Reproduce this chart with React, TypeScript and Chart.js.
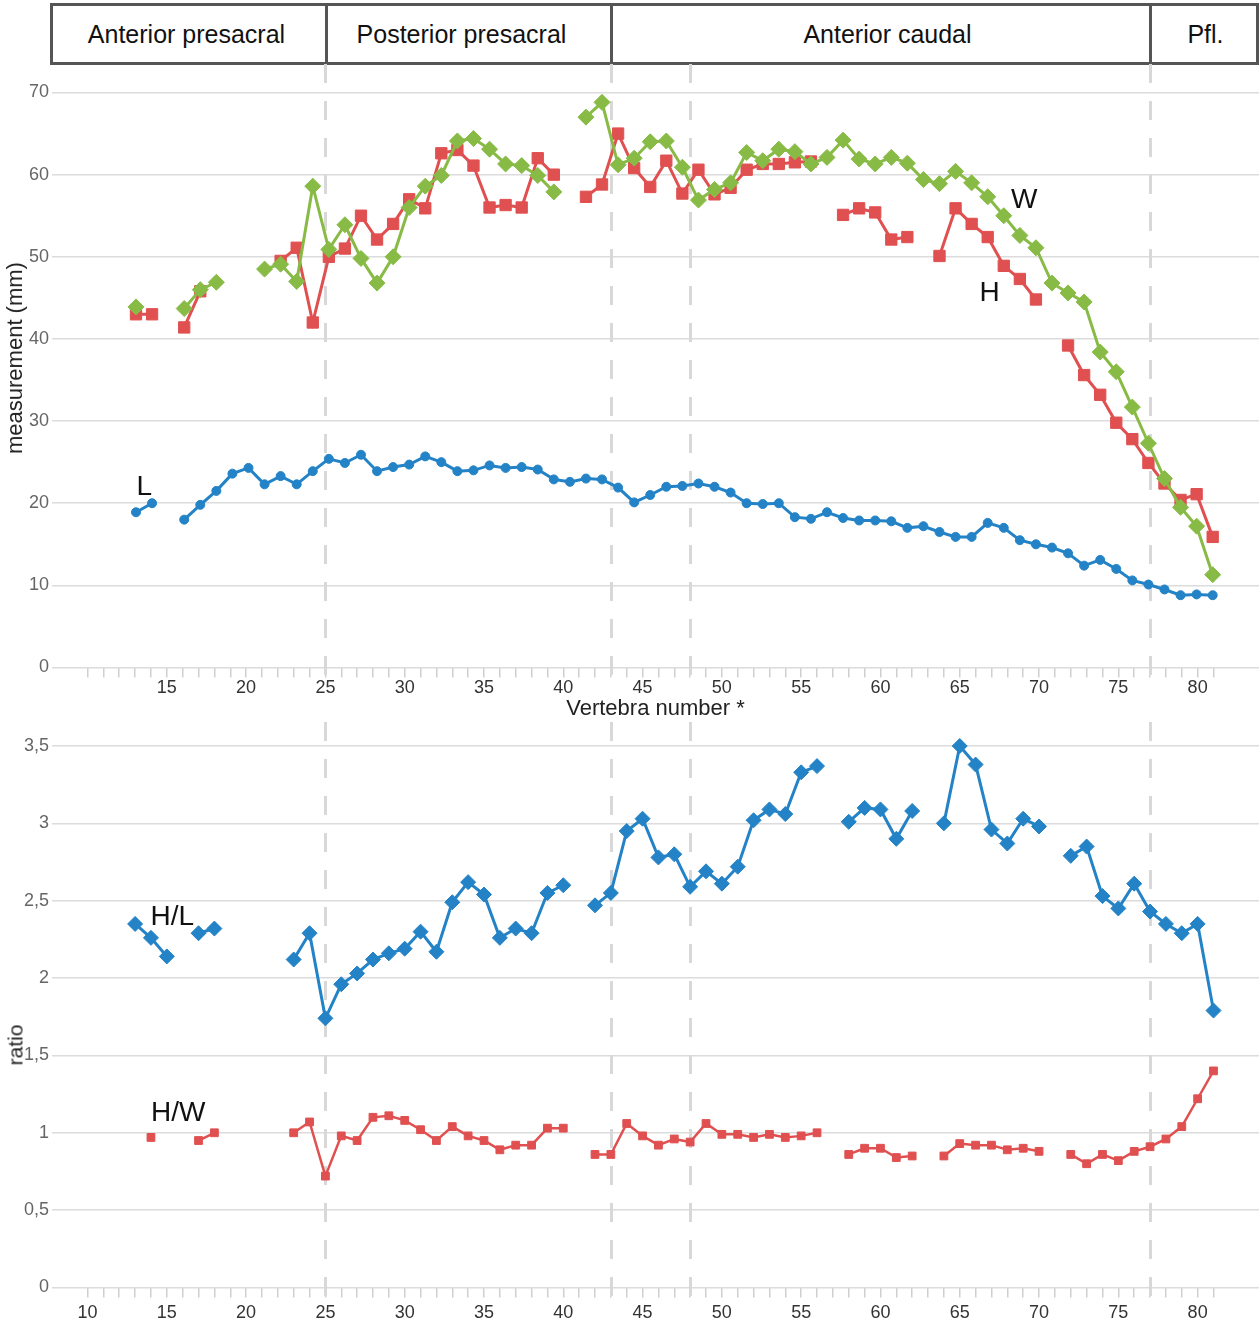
import React, { useEffect, useRef } from 'react';
import { Chart, registerables } from 'chart.js';

Chart.register(...registerables);

const FONT = "'Liberation Sans', Arial, Helvetica, sans-serif";
const BLUE = '#2383c6';
const RED = '#e05050';
const GREEN = '#88bb46';

// ---------- region headers ----------
const regionNames = ['Anterior presacral', 'Posterior presacral', 'Anterior caudal', 'Pfl.'];
const headerEdges = [51, 326, 611, 1150, 1257]; // layout (px)
const headerTextShift = [-2, -7, 7, 2]; // layout (px)
const regionBoundaries = [25, 43, 48, 77]; // dashed vertical lines (vertebra number)

// ---------- axis ticks ----------
const xTickValues = [
  10, 11, 12, 13, 14, 15, 16, 17, 18, 19, 20, 21, 22, 23, 24, 25, 26, 27, 28, 29, 30,
  31, 32, 33, 34, 35, 36, 37, 38, 39, 40, 41, 42, 43, 44, 45, 46, 47, 48, 49, 50,
  51, 52, 53, 54, 55, 56, 57, 58, 59, 60, 61, 62, 63, 64, 65, 66, 67, 68, 69, 70,
  71, 72, 73, 74, 75, 76, 77, 78, 79, 80, 81,
];
const topXLabels = [15, 20, 25, 30, 35, 40, 45, 50, 55, 60, 65, 70, 75, 80];
const bottomXLabels = [10, 15, 20, 25, 30, 35, 40, 45, 50, 55, 60, 65, 70, 75, 80];
const X_MIN = 7.76;
const X_MAX = 83.87;
// the upper panel's points are spaced slightly wider than its tick labels
const TOP_POINT_MIN = 8.773;
const TOP_POINT_MAX = 83.882;

// ---------- upper panel: measurements (mm) ----------
const topVertebrae = [
  14, 15, 16, 17, 18, 19, 20, 21, 22, 23, 24, 25, 26, 27, 28, 29, 30, 31, 32, 33,
  34, 35, 36, 37, 38, 39, 40, 41, 42, 43, 44, 45, 46, 47, 48, 49, 50, 51, 52, 53,
  54, 55, 56, 57, 58, 59, 60, 61, 62, 63, 64, 65, 66, 67, 68, 69, 70, 71, 72, 73,
  74, 75, 76, 77, 78, 79, 80, 81,
];
const lengthL = [
  18.9, 20.0, null, 18.0, 19.8, 21.5, 23.6, 24.3, 22.3, 23.3, 22.3, 23.9, 25.4, 24.9, 25.9, 23.9, 24.4, 24.7, 25.7, 25.0,
  23.9, 24.0, 24.6, 24.3, 24.4, 24.1, 22.9, 22.6, 23.0, 22.9, 21.9, 20.1, 21.0, 22.0, 22.1, 22.4, 22.0, 21.3, 20.0, 19.9,
  20.0, 18.3, 18.1, 18.9, 18.2, 17.9, 17.9, 17.8, 17.0, 17.2, 16.5, 15.9, 15.9, 17.6, 17.0, 15.5, 15.0, 14.6, 13.9, 12.4,
  13.1, 12.0, 10.6, 10.1, 9.5, 8.8, 8.9, 8.8,
];
const heightH = [
  43.0, 43.0, null, 41.4, 45.8, null, null, null, null, 49.5, 51.1, 42.0, 50.0, 51.0, 55.0, 52.1, 54.0, 57.0, 55.9, 62.6,
  63.0, 61.1, 56.0, 56.3, 56.0, 62.0, 60.0, null, 57.3, 58.8, 65.0, 60.8, 58.5, 61.7, 57.7, 60.6, 57.6, 58.4, 60.6, 61.3,
  61.3, 61.5, 61.6, null, 55.1, 55.9, 55.4, 52.1, 52.4, null, 50.1, 55.9, 54.0, 52.4, 48.9, 47.3, 44.8, null, 39.2, 35.6,
  33.2, 29.8, 27.8, 24.9, 22.4, 20.4, 21.1, 15.9,
];
const widthW = [
  43.9, null, null, 43.7, 46.0, 46.9, null, null, 48.5, 49.1, 47.0, 58.6, 50.9, 53.9, 49.8, 46.8, 50.0, 56.0, 58.6, 59.9,
  64.1, 64.4, 63.1, 61.3, 61.1, 59.9, 57.9, null, 67.0, 68.8, 61.2, 62.0, 64.0, 64.1, 60.9, 56.9, 58.2, 59.0, 62.7, 61.7,
  63.1, 62.8, 61.3, 62.1, 64.2, 61.9, 61.3, 62.1, 61.4, 59.4, 58.9, 60.4, 59.0, 57.3, 55.0, 52.6, 51.1, 46.8, 45.6, 44.5,
  38.4, 36.0, 31.7, 27.3, 23.0, 19.5, 17.2, 11.3,
];

// ---------- lower panel: ratios ----------
const ratioVertebrae = [
  13, 14, 15, 16, 17, 18, 19, 20, 21, 22, 23, 24, 25, 26, 27, 28, 29, 30, 31, 32,
  33, 34, 35, 36, 37, 38, 39, 40, 41, 42, 43, 44, 45, 46, 47, 48, 49, 50, 51, 52,
  53, 54, 55, 56, 57, 58, 59, 60, 61, 62, 63, 64, 65, 66, 67, 68, 69, 70, 71, 72,
  73, 74, 75, 76, 77, 78, 79, 80, 81,
];
const ratioHL = [
  2.35, 2.26, 2.14, null, 2.29, 2.32, null, null, null, null, 2.12, 2.29, 1.74, 1.96, 2.03, 2.12, 2.16, 2.19, 2.30, 2.17,
  2.49, 2.62, 2.54, 2.26, 2.32, 2.29, 2.55, 2.60, null, 2.47, 2.55, 2.95, 3.03, 2.78, 2.80, 2.59, 2.69, 2.61, 2.72, 3.02,
  3.09, 3.06, 3.33, 3.37, null, 3.01, 3.10, 3.09, 2.90, 3.08, null, 3.00, 3.50, 3.38, 2.96, 2.87, 3.03, 2.98, null, 2.79,
  2.85, 2.53, 2.45, 2.61, 2.43, 2.35, 2.29, 2.35, 1.79,
];
const ratioHW = [
  null, 0.97, null, null, 0.95, 1.00, null, null, null, null, 1.00, 1.07, 0.72, 0.98, 0.95, 1.10, 1.11, 1.08, 1.02, 0.95,
  1.04, 0.98, 0.95, 0.89, 0.92, 0.92, 1.03, 1.03, null, 0.86, 0.86, 1.06, 0.98, 0.92, 0.96, 0.94, 1.06, 0.99, 0.99, 0.97,
  0.99, 0.97, 0.98, 1.00, null, 0.86, 0.90, 0.90, 0.84, 0.85, null, 0.85, 0.93, 0.92, 0.92, 0.89, 0.90, 0.88, null, 0.86,
  0.80, 0.86, 0.82, 0.88, 0.91, 0.96, 1.04, 1.22, 1.40,
];

const toPoints = (xs: number[], ys: (number | null)[]) => xs.map((x, i) => ({ x, y: ys[i] }));

const makeDividerPlugin = (extra: number) => ({
  id: 'regionDividers',
  beforeDatasetsDraw(chart: any) {
    const { ctx, chartArea, scales } = chart;
    const sx = scales.x;
    ctx.save();
    ctx.strokeStyle = '#d8d8d8';
    ctx.lineWidth = 3;
    ctx.setLineDash([19, 18]);
    for (const b of regionBoundaries) {
      const px = Math.round(sx.getPixelForValue(b)) + 0.5;
      ctx.beginPath();
      ctx.moveTo(px, 0);
      ctx.lineTo(px, chartArea.bottom + extra);
      ctx.stroke();
    }
    ctx.restore();
  },
});

const xAxis = (labels: number[], padding: number, height: number, title?: any) => ({
  type: 'linear',
  position: 'bottom',
  min: X_MIN,
  max: X_MAX,
  afterBuildTicks: (axis: any) => {
    axis.ticks = xTickValues.map((v) => ({ value: v }));
  },
  afterFit: (axis: any) => {
    axis.height = height;
  },
  ticks: {
    autoSkip: false,
    maxRotation: 0,
    minRotation: 0,
    padding,
    color: '#333',
    font: { size: 18, family: FONT },
    callback: (v: number) => (labels.includes(v) ? String(v) : ''),
  },
  grid: { drawOnChartArea: false, drawTicks: true, tickLength: 10, color: '#cfcfcf', lineWidth: 1.5 },
  border: { display: false },
  title: title || { display: false },
});

export default function App() {
  const topRef = useRef<HTMLCanvasElement>(null);
  const botRef = useRef<HTMLCanvasElement>(null);

  useEffect(() => {
    Chart.defaults.font.family = FONT;

    const top = new Chart(topRef.current as HTMLCanvasElement, {
      type: 'line',
      data: {
        datasets: [
          {
            label: 'W',
            data: toPoints(topVertebrae, widthW),
            xAxisID: 'xd',
            borderColor: GREEN,
            backgroundColor: GREEN,
            pointBorderColor: GREEN,
            pointBackgroundColor: GREEN,
            pointStyle: 'rectRot',
            pointRadius: 8,
            pointBorderWidth: 1,
            borderWidth: 3,
            tension: 0,
            clip: false,
          },
          {
            label: 'H',
            data: toPoints(topVertebrae, heightH),
            xAxisID: 'xd',
            borderColor: RED,
            backgroundColor: RED,
            pointBorderColor: RED,
            pointBackgroundColor: RED,
            pointStyle: 'rect',
            pointRadius: 8,
            pointBorderWidth: 1,
            borderWidth: 3,
            tension: 0,
            clip: false,
          },
          {
            label: 'L',
            data: toPoints(topVertebrae, lengthL),
            xAxisID: 'xd',
            borderColor: BLUE,
            backgroundColor: BLUE,
            pointBorderColor: BLUE,
            pointBackgroundColor: BLUE,
            pointStyle: 'circle',
            pointRadius: 4.5,
            pointBorderWidth: 1,
            borderWidth: 3,
            tension: 0,
            clip: false,
          },
        ],
      },
      options: {
        animation: false,
        responsive: false,
        events: [],
        layout: { autoPadding: false, padding: { top: 28.5, left: 0, right: 0, bottom: 0 } },
        plugins: { legend: { display: false }, tooltip: { enabled: false } },
        scales: {
          x: xAxis(topXLabels, 0, 54.5, {
            display: true,
            text: 'Vertebra number *',
            color: '#222',
            font: { size: 22, family: FONT },
            padding: { top: 0, bottom: 0 },
          }),
          xd: { type: 'linear', display: false, min: TOP_POINT_MIN, max: TOP_POINT_MAX },
          y: {
            min: 0,
            max: 70,
            afterFit: (axis: any) => {
              axis.width = 52;
            },
            ticks: { stepSize: 10, padding: 3, color: '#666', font: { size: 18, family: FONT } },
            grid: { color: '#dcdcdc', lineWidth: 1.5, drawTicks: false },
            border: { display: false },
          },
        },
      } as any,
      plugins: [makeDividerPlugin(10)],
    } as any);

    const bot = new Chart(botRef.current as HTMLCanvasElement, {
      type: 'line',
      data: {
        datasets: [
          {
            label: 'H/L',
            data: toPoints(ratioVertebrae, ratioHL),
            borderColor: BLUE,
            backgroundColor: BLUE,
            pointBorderColor: BLUE,
            pointBackgroundColor: BLUE,
            pointStyle: 'rectRot',
            pointRadius: 7.5,
            pointBorderWidth: 1,
            borderWidth: 3,
            tension: 0,
            clip: false,
          },
          {
            label: 'H/W',
            data: toPoints(ratioVertebrae, ratioHW),
            borderColor: RED,
            backgroundColor: RED,
            pointBorderColor: RED,
            pointBackgroundColor: RED,
            pointStyle: 'rect',
            pointRadius: 5.5,
            pointBorderWidth: 1,
            borderWidth: 2.5,
            tension: 0,
            clip: false,
          },
        ],
      },
      options: {
        animation: false,
        responsive: false,
        events: [],
        layout: { autoPadding: false, padding: { top: 24, left: 0, right: 0, bottom: 0 } },
        plugins: { legend: { display: false }, tooltip: { enabled: false } },
        scales: {
          x: xAxis(bottomXLabels, 5, 37.5),
          y: {
            min: 0,
            max: 3.5,
            afterFit: (axis: any) => {
              axis.width = 52;
            },
            ticks: {
              stepSize: 0.5,
              padding: 3,
              color: '#666',
              font: { size: 18, family: FONT },
              callback: (v: number) => String(v).replace('.', ','),
            },
            grid: { color: '#dcdcdc', lineWidth: 1.5, drawTicks: false },
            border: { display: false },
          },
        },
      } as any,
      plugins: [makeDividerPlugin(12)],
    } as any);

    return () => {
      top.destroy();
      bot.destroy();
    };
  }, []);

  const seriesLabel = (text: string, left: number, top: number) => (
    <div
      key={text}
      style={{
        position: 'absolute',
        left,
        top,
        fontSize: 28,
        lineHeight: 1,
        color: '#111',
        fontFamily: FONT,
        whiteSpace: 'nowrap',
      }}
    >
      {text}
    </div>
  );

  const axisTitle = (text: string, cx: number, cy: number, size: number) => (
    <div
      key={text}
      style={{
        position: 'absolute',
        left: cx,
        top: cy,
        transform: 'translate(-50%, -50%) rotate(-90deg)',
        fontSize: size,
        lineHeight: 1,
        color: '#222',
        fontFamily: FONT,
        whiteSpace: 'nowrap',
      }}
    >
      {text}
    </div>
  );

  return (
    <div
      style={{
        position: 'absolute',
        left: 0,
        top: 0,
        width: 1259,
        height: 1325,
        background: '#fff',
        overflow: 'hidden',
        fontFamily: FONT,
      }}
    >
      {regionNames.map((name, i) => (
        <div
          key={name}
          style={{
            position: 'absolute',
            left: headerEdges[i] - 1.5,
            top: 3,
            width: headerEdges[i + 1] - headerEdges[i] + 3,
            height: 62,
            border: '3px solid #555',
            boxSizing: 'border-box',
            display: 'flex',
            alignItems: 'center',
            justifyContent: 'center',
            fontSize: 25,
            color: '#111',
            whiteSpace: 'nowrap',
          }}
        >
          <span style={{ position: 'relative', left: headerTextShift[i] }}>{name}</span>
        </div>
      ))}
      <canvas
        ref={topRef}
        width={1259}
        height={658}
        style={{ position: 'absolute', left: 0, top: 64, width: 1259, height: 658 }}
      />
      <canvas
        ref={botRef}
        width={1259}
        height={603}
        style={{ position: 'absolute', left: 0, top: 722, width: 1259, height: 603 }}
      />
      {axisTitle('measurement (mm)', 15, 358, 22)}
      {axisTitle('ratio', 15, 1045, 21)}
      {seriesLabel('L', 136.5, 471.5)}
      {seriesLabel('W', 1011, 184.5)}
      {seriesLabel('H', 979.5, 278)}
      {seriesLabel('H/L', 150.5, 901.5)}
      {seriesLabel('H/W', 151, 1098)}
    </div>
  );
}
